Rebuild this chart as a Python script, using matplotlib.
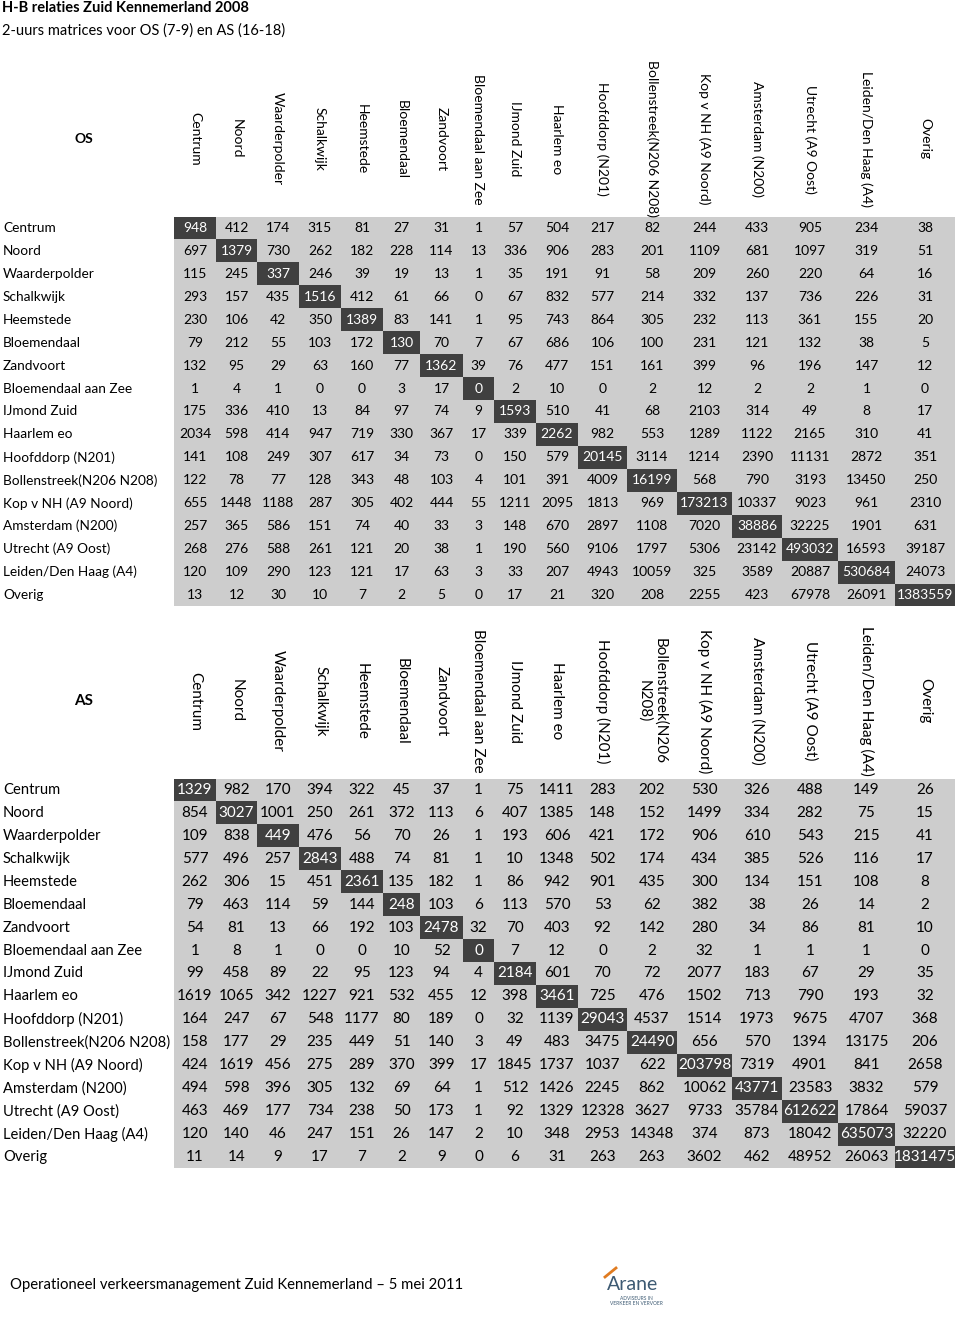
import matplotlib
matplotlib.use("Agg")
import matplotlib.pyplot as plt
from matplotlib.patches import Rectangle

plt.rcParams['font.family'] = ['Lato', 'DejaVu Sans']

zones = ['Centrum', 'Noord', 'Waarderpolder', 'Schalkwijk', 'Heemstede', 'Bloemendaal',
         'Zandvoort', 'Bloemendaal aan Zee', 'IJmond Zuid', 'Haarlem eo', 'Hoofddorp (N201)',
         'Bollenstreek(N206 N208)', 'Kop v NH (A9 Noord)', 'Amsterdam (N200)',
         'Utrecht (A9 Oost)', 'Leiden/Den Haag (A4)', 'Overig']

# ochtendspits 7-9
os_matrix = [
    [948, 412, 174, 315, 81, 27, 31, 1, 57, 504, 217, 82, 244, 433, 905, 234, 38],
    [697, 1379, 730, 262, 182, 228, 114, 13, 336, 906, 283, 201, 1109, 681, 1097, 319, 51],
    [115, 245, 337, 246, 39, 19, 13, 1, 35, 191, 91, 58, 209, 260, 220, 64, 16],
    [293, 157, 435, 1516, 412, 61, 66, 0, 67, 832, 577, 214, 332, 137, 736, 226, 31],
    [230, 106, 42, 350, 1389, 83, 141, 1, 95, 743, 864, 305, 232, 113, 361, 155, 20],
    [79, 212, 55, 103, 172, 130, 70, 7, 67, 686, 106, 100, 231, 121, 132, 38, 5],
    [132, 95, 29, 63, 160, 77, 1362, 39, 76, 477, 151, 161, 399, 96, 196, 147, 12],
    [1, 4, 1, 0, 0, 3, 17, 0, 2, 10, 0, 2, 12, 2, 2, 1, 0],
    [175, 336, 410, 13, 84, 97, 74, 9, 1593, 510, 41, 68, 2103, 314, 49, 8, 17],
    [2034, 598, 414, 947, 719, 330, 367, 17, 339, 2262, 982, 553, 1289, 1122, 2165, 310, 41],
    [141, 108, 249, 307, 617, 34, 73, 0, 150, 579, 20145, 3114, 1214, 2390, 11131, 2872, 351],
    [122, 78, 77, 128, 343, 48, 103, 4, 101, 391, 4009, 16199, 568, 790, 3193, 13450, 250],
    [655, 1448, 1188, 287, 305, 402, 444, 55, 1211, 2095, 1813, 969, 173213, 10337, 9023, 961, 2310],
    [257, 365, 586, 151, 74, 40, 33, 3, 148, 670, 2897, 1108, 7020, 38886, 32225, 1901, 631],
    [268, 276, 588, 261, 121, 20, 38, 1, 190, 560, 9106, 1797, 5306, 23142, 493032, 16593, 39187],
    [120, 109, 290, 123, 121, 17, 63, 3, 33, 207, 4943, 10059, 325, 3589, 20887, 530684, 24073],
    [13, 12, 30, 10, 7, 2, 5, 0, 17, 21, 320, 208, 2255, 423, 67978, 26091, 1383559],
]

# avondspits 16-18
as_matrix = [
    [1329, 982, 170, 394, 322, 45, 37, 1, 75, 1411, 283, 202, 530, 326, 488, 149, 26],
    [854, 3027, 1001, 250, 261, 372, 113, 6, 407, 1385, 148, 152, 1499, 334, 282, 75, 15],
    [109, 838, 449, 476, 56, 70, 26, 1, 193, 606, 421, 172, 906, 610, 543, 215, 41],
    [577, 496, 257, 2843, 488, 74, 81, 1, 10, 1348, 502, 174, 434, 385, 526, 116, 17],
    [262, 306, 15, 451, 2361, 135, 182, 1, 86, 942, 901, 435, 300, 134, 151, 108, 8],
    [79, 463, 114, 59, 144, 248, 103, 6, 113, 570, 53, 62, 382, 38, 26, 14, 2],
    [54, 81, 13, 66, 192, 103, 2478, 32, 70, 403, 92, 142, 280, 34, 86, 81, 10],
    [1, 8, 1, 0, 0, 10, 52, 0, 7, 12, 0, 2, 32, 1, 1, 1, 0],
    [99, 458, 89, 22, 95, 123, 94, 4, 2184, 601, 70, 72, 2077, 183, 67, 29, 35],
    [1619, 1065, 342, 1227, 921, 532, 455, 12, 398, 3461, 725, 476, 1502, 713, 790, 193, 32],
    [164, 247, 67, 548, 1177, 80, 189, 0, 32, 1139, 29043, 4537, 1514, 1973, 9675, 4707, 368],
    [158, 177, 29, 235, 449, 51, 140, 3, 49, 483, 3475, 24490, 656, 570, 1394, 13175, 206],
    [424, 1619, 456, 275, 289, 370, 399, 17, 1845, 1737, 1037, 622, 203798, 7319, 4901, 841, 2658],
    [494, 598, 396, 305, 132, 69, 64, 1, 512, 1426, 2245, 862, 10062, 43771, 23583, 3832, 579],
    [463, 469, 177, 734, 238, 50, 173, 1, 92, 1329, 12328, 3627, 9733, 35784, 612622, 17864, 59037],
    [120, 140, 46, 247, 151, 26, 147, 2, 10, 348, 2953, 14348, 374, 873, 18042, 635073, 32220],
    [11, 14, 9, 17, 7, 2, 9, 0, 6, 31, 263, 263, 3602, 462, 48952, 26063, 1831475],
]

# layout (pixels)
col_edges = [174, 216, 257, 299, 341, 383, 420, 463, 494, 536, 578, 627, 677, 732, 782, 838, 895, 955]
row_h = 22.94
light = '#cdcdcd'
dark = '#404040'

fig = plt.figure(figsize=(9.6, 13.23), dpi=100)
ax = fig.add_axes([0, 0, 1, 1])
ax.set_xlim(0, 960)
ax.set_ylim(1323, 0)
ax.axis('off')

ax.text(2, 8, 'H-B relaties Zuid Kennemerland 2008', fontsize=10.5, fontweight='bold', va='center')
ax.text(2, 31, '2-uurs matrices voor OS (7-9) en AS (16-18)', fontsize=10.5, va='center')


def draw_block(name, matrix, top, head_y, fs, label_fs, heads):
    n = len(zones)
    x0, x1 = col_edges[0], col_edges[-1]
    ax.add_patch(Rectangle((x0, top), x1 - x0, n * row_h, color=light, lw=0))
    ax.text(84, head_y, name, fontsize=fs, fontweight='bold', ha='center', va='center')
    for j, h in enumerate(heads):
        cx = (col_edges[j] + col_edges[j + 1]) / 2
        ax.text(cx, head_y, h, fontsize=fs, rotation=270, ha='center', va='center',
                rotation_mode='anchor', multialignment='center')
    for i, row in enumerate(matrix):
        cy = top + (i + 0.5) * row_h
        ax.text(3, cy, zones[i], fontsize=label_fs, va='center')
        for j, v in enumerate(row):
            cx = (col_edges[j] + col_edges[j + 1]) / 2
            c = 'black'
            if i == j:
                ax.add_patch(Rectangle((col_edges[j], top + i * row_h),
                                       col_edges[j + 1] - col_edges[j], row_h, color=dark, lw=0))
                c = 'white'
            ax.text(cx, cy, str(v), fontsize=fs, ha='center', va='center', color=c)


draw_block('OS', os_matrix, 216.5, 139, 10, 9.8, zones)
as_heads = list(zones)
as_heads[11] = 'Bollenstreek(N206\nN208)'
draw_block('AS', as_matrix, 778.5, 701, 11, 10.6, as_heads)

ax.text(10, 1285, 'Operationeel verkeersmanagement Zuid Kennemerland \u2013 5 mei 2011',
        fontsize=10.7, va='center')
ax.text(633, 1285, 'Arane', fontsize=14, color='#3d5a73', ha='center', va='center')
ax.text(636, 1301, 'ADVISEURS IN\nVERKEER EN VERVOER', fontsize=3.5, color='#3d5a73',
        ha='center', va='center', linespacing=1.0)
ax.plot([605, 616], [1277, 1268], color='#e07b20', lw=2)

fig.savefig('out.png', dpi=100)
